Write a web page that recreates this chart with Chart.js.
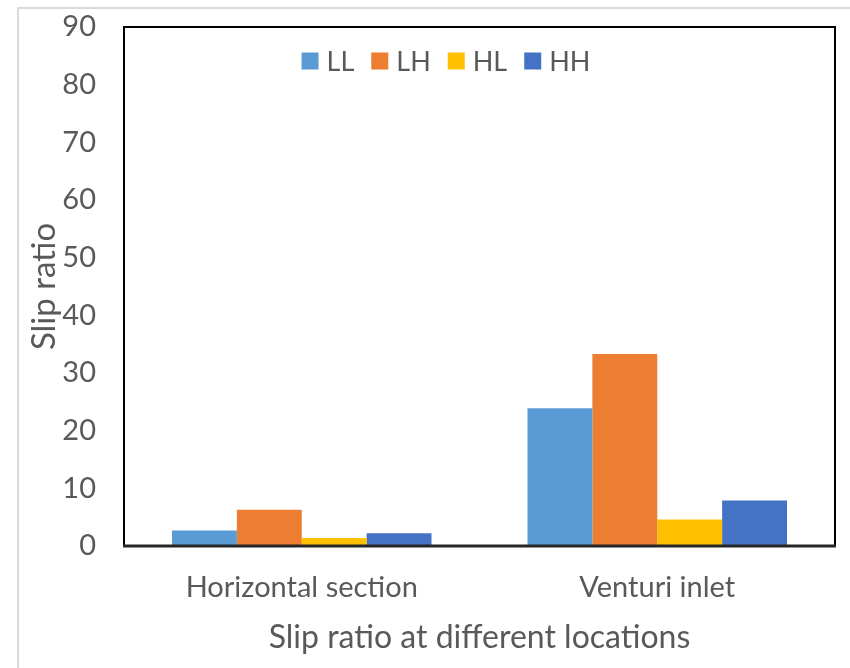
<!DOCTYPE html>
<html>
<head>
<meta charset="utf-8">
<script src="https://cdn.jsdelivr.net/npm/chart.js@4"></script>
<style>
  html, body { margin: 0; padding: 0; background: #fff; overflow: hidden; }
  #wrap { position: relative; width: 850px; height: 668px; }
  #edge { position: absolute; left: 17px; top: 7px; width: 900px; height: 700px; border: 2px solid #d9d9d9; box-sizing: border-box; pointer-events: none; }
  canvas { position: absolute; left: 0; top: 0; }
</style>
</head>
<body>
<div id="wrap">
  <canvas id="c" width="850" height="668"></canvas>
  <div id="edge"></div>
</div>
<script>
// Locations along the pipe
const locations = ['Horizontal section', 'Venturi inlet'];

// Slip ratio for each flow condition
const seriesNames = ['LL', 'LH', 'HL', 'HH'];
const llValues = [2.7, 23.9];
const lhValues = [6.3, 33.3];
const hlValues = [1.4, 4.6];
const hhValues = [2.2, 7.9];
const seriesColors = ['#5B9BD5', '#ED7D31', '#FFC000', '#4472C4'];

// Value axis
const yMin = 0;
const yMax = 90;
const yStep = 10;

const textColor = '#595959';
const fontFamily = 'Lato, "Open Sans", sans-serif';

// Frame around the plotting area
const frame = {
  id: 'frame',
  afterDraw(chart) {
    const { ctx, chartArea: a } = chart;
    ctx.save();
    ctx.strokeStyle = '#000';
    ctx.lineWidth = 2;
    ctx.beginPath();
    ctx.moveTo(a.left, a.bottom);
    ctx.lineTo(a.left, a.top);
    ctx.lineTo(a.right, a.top);
    ctx.lineTo(a.right, a.bottom);
    ctx.stroke();
    ctx.strokeStyle = '#262626';
    ctx.lineWidth = 3;
    ctx.beginPath();
    ctx.moveTo(a.left - 1, a.bottom);
    ctx.lineTo(a.right + 1, a.bottom);
    ctx.stroke();
    ctx.restore();
  }
};

// Single-row legend drawn inside the top of the plotting area
const innerLegend = {
  id: 'innerLegend',
  afterDraw(chart, args, opts) {
    const { ctx, chartArea: a } = chart;
    const box = 17, gap = 8, spacing = 17;
    ctx.save();
    ctx.font = `${opts.size}px ${fontFamily}`;
    ctx.textBaseline = 'middle';
    const items = chart.data.datasets.map(ds => ({
      text: ds.label, color: ds.backgroundColor, w: ctx.measureText(ds.label).width
    }));
    const total = items.reduce((s, it) => s + box + gap + it.w, 0) + spacing * (items.length - 1);
    let x = opts.centerX - total / 2;
    const cy = a.top + opts.offsetY;
    items.forEach(it => {
      ctx.fillStyle = it.color;
      ctx.fillRect(x, cy - box / 2, box, box);
      ctx.fillStyle = textColor;
      ctx.fillText(it.text, x + box + gap, cy + 1);
      x += box + gap + it.w + spacing;
    });
    ctx.restore();
  }
};

const allValues = [llValues, lhValues, hlValues, hhValues];

new Chart(document.getElementById('c'), {
  type: 'bar',
  data: {
    labels: locations,
    datasets: seriesNames.map((name, i) => ({
      label: name,
      data: allValues[i],
      backgroundColor: seriesColors[i],
      borderWidth: 0,
      barPercentage: 1.0,
      categoryPercentage: 0.73
    }))
  },
  options: {
    responsive: false,
    animation: false,
    layout: { padding: { top: 27, right: 15, left: 0, bottom: 0 } },
    plugins: {
      legend: { display: false },
      tooltip: { enabled: false },
      innerLegend: { size: 27, centerX: 446, offsetY: 34 }
    },
    scales: {
      x: {
        grid: { display: false, drawTicks: true, tickLength: 21 },
        border: { display: false },
        ticks: {
          color: textColor,
          font: { family: fontFamily, size: 29 },
          padding: 3
        },
        title: {
          display: true,
          text: 'Slip ratio at different locations',
          color: textColor,
          font: { family: fontFamily, size: 32 },
          padding: { top: 0, bottom: 11 }
        },
        afterFit(scale) { scale.height = 122; }
      },
      y: {
        min: yMin,
        max: yMax,
        grid: { display: false, drawTicks: true, tickLength: 25 },
        border: { display: false },
        ticks: {
          stepSize: yStep,
          color: textColor,
          font: { family: fontFamily, size: 29 },
          padding: 3
        },
        title: {
          display: true,
          text: 'Slip ratio',
          color: textColor,
          font: { family: fontFamily, size: 33 },
          padding: { top: 25, bottom: 0 }
        },
        afterFit(scale) { scale.width = 124; }
      }
    }
  },
  plugins: [frame, innerLegend]
});
</script>
</body>
</html>
